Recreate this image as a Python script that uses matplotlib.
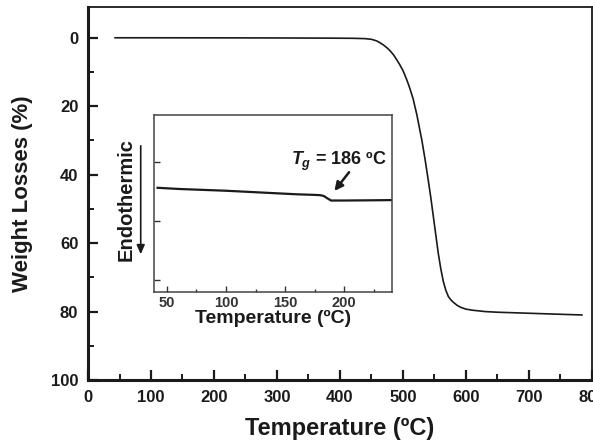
import matplotlib
matplotlib.use("Agg")
import matplotlib.pyplot as plt
from matplotlib.ticker import MultipleLocator

plt.rcParams["font.family"] = ["Liberation Sans", "DejaVu Sans"]
plt.rcParams["font.weight"] = "bold"
plt.rcParams["mathtext.fontset"] = "custom"
plt.rcParams["mathtext.it"] = "Liberation Sans:italic:bold"
plt.rcParams["mathtext.rm"] = "Liberation Sans:bold"

# TGA curve (main panel)
tga_temp = [43, 100, 200, 300, 380, 420, 440, 450, 458, 463, 469, 475, 480,
            485, 490, 495, 500, 505, 510, 516, 522, 530, 535, 540,
            544, 548, 552, 556, 560, 564, 568, 572, 576, 580, 586, 592, 600,
            610, 630, 650, 700, 750, 784]
tga_loss = [0.0, 0.0, 0.02, 0.05, 0.1, 0.15, 0.25, 0.45, 0.9, 1.4, 2.1, 3.0, 3.9,
            5.0, 6.4, 7.9, 9.6, 11.8, 14.3, 17.8, 22.5, 30.0, 35.5, 41.5,
            46.5, 52.0, 57.5, 63.0, 67.5, 71.2, 73.8, 75.6, 76.6, 77.3, 78.2, 78.8, 79.3,
            79.6, 80.0, 80.2, 80.5, 80.8, 81.0]

# DSC curve (inset), arbitrary heat-flow units
dsc_temp = [42, 60, 80, 100, 120, 140, 160, 175, 180, 183, 186, 189, 192, 200, 220, 240]
dsc_flow = [-0.44, -0.46, -0.475, -0.49, -0.51, -0.53, -0.55, -0.56, -0.565,
            -0.58, -0.62, -0.655, -0.655, -0.655, -0.652, -0.648]

tg_value = 186

ink = "#1a1a1a"
fig = plt.figure(figsize=(5.93, 4.42), dpi=100)
ax = fig.add_axes([0.1484, 0.1403, 0.8499, 0.8439])
ax.plot(tga_temp, tga_loss, color=ink, lw=1.2)
ax.set_xlim(0, 800)
ax.set_ylim(100, -9)
ax.xaxis.set_major_locator(MultipleLocator(100))
ax.xaxis.set_minor_locator(MultipleLocator(50))
ax.yaxis.set_major_locator(MultipleLocator(20))
ax.yaxis.set_minor_locator(MultipleLocator(10))
ax.tick_params(which="both", direction="in", top=False, right=False,
               colors=ink, labelsize=12, pad=7)
ax.tick_params(which="major", length=7, width=1.6)
ax.tick_params(which="minor", length=4, width=1.4)
for s in ("left", "bottom"):
    ax.spines[s].set_linewidth(2.2)
for s in ("top", "right"):
    ax.spines[s].set_linewidth(1.3)
for s in ax.spines.values():
    s.set_color(ink)
ax.set_xlabel("Temperature (ºC)", fontsize=17, fontweight="bold", color=ink)
ax.set_ylabel("Weight Losses (%)", fontsize=16, fontweight="bold", color=ink)
ax.xaxis.set_label_coords(0.5, -0.1)
ax.yaxis.set_label_coords(-0.11, 0.5)

# inset DSC
ins = fig.add_axes([0.2597, 0.3394, 0.4013, 0.4005])
ins.plot(dsc_temp, dsc_flow, color=ink, lw=1.6)
ins.set_xlim(39, 240.6)
ins.set_ylim(-2.2, 0.79)
ins.xaxis.set_major_locator(MultipleLocator(50))
ins.xaxis.set_minor_locator(MultipleLocator(25))
ins.set_yticks([0, -1, -2])
ins.set_yticklabels([])
ins.tick_params(which="both", direction="in", top=False, right=False,
                colors="#333333", labelsize=10.5, pad=3)
ins.tick_params(which="major", length=4, width=1)
ins.tick_params(which="minor", length=2.5, width=1)
for s in ins.spines.values():
    s.set_color("#444444")
    s.set_linewidth(1.1)
ins.set_xlabel("Temperature (ºC)", fontsize=14, fontweight="bold", color=ink, labelpad=0)

ins.annotate("", xy=(190.4, -0.53), xytext=(205.7, -0.14),
             arrowprops=dict(arrowstyle="-|>,head_width=0.25,head_length=0.5",
                             color=ink, lw=1.8))
ins.text(196, 0.0, r"$T_g$" + f" = {tg_value} ºC", fontsize=13,
         fontweight="bold", color=ink, ha="center", va="center")

fig.text(0.2125, 0.5475, "Endothermic", rotation=90, fontsize=14.5,
         fontweight="bold", color=ink, ha="center", va="center")
fig.add_artist(matplotlib.patches.FancyArrowPatch(
    (0.2373, 0.6765), (0.2373, 0.4186), transform=fig.transFigure,
    arrowstyle="-|>,head_width=0.2,head_length=0.45", color=ink, lw=1.2,
    mutation_scale=12))

fig.savefig("out.png", dpi=100)
